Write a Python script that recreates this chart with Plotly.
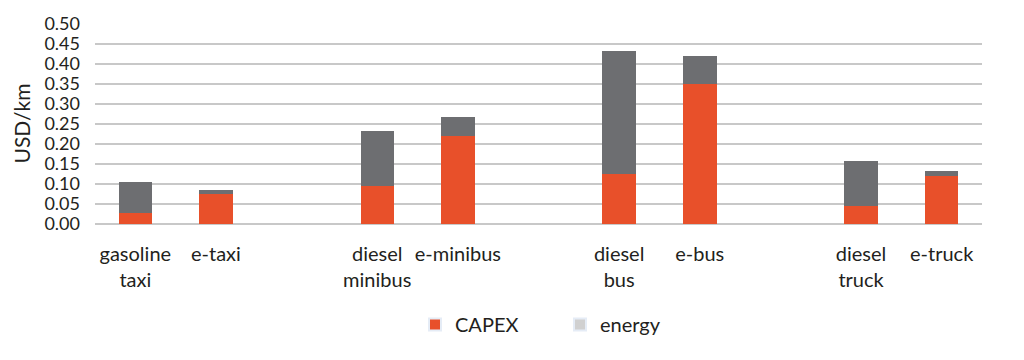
import plotly.graph_objects as go

categories = ["gasoline<br>taxi", "e-taxi", " ", "diesel<br>minibus", "e-minibus", "  ",
              "diesel<br>bus", "e-bus", "   ", "diesel<br>truck", "e-truck"]
capex = [0.027, 0.076, None, 0.095, 0.221, None, 0.124, 0.350, None, 0.045, 0.119]
energy = [0.078, 0.010, None, 0.137, 0.046, None, 0.308, 0.069, None, 0.113, 0.013]
y_ticks = [0.00, 0.05, 0.10, 0.15, 0.20, 0.25, 0.30, 0.35, 0.40, 0.45, 0.50]

ORANGE = "#E8502A"
DARK = "#6D6E71"
LIGHT = "#D0D0D0"
FONT = "Lato"
TXT = "#231F20"

# the page body has an 8px margin; plot area should span x 95..982, y 23..224 on screen
L, R, T, B = 87, 50, 15, 144
plot_w = 1024 - L - R

fig = go.Figure()
fig.add_trace(go.Bar(x=categories, y=capex, marker=dict(color=ORANGE, line=dict(width=0)),
                     name="CAPEX", showlegend=False))
fig.add_trace(go.Bar(x=categories, y=energy, marker=dict(color=DARK, line=dict(width=0)),
                     name="energy", showlegend=False))
# legend entries
fig.add_trace(go.Bar(x=[categories[0]], y=[None], marker=dict(color=ORANGE), name="CAPEX"))
fig.add_trace(go.Bar(x=[categories[0]], y=[None], marker=dict(color=LIGHT), name="energy"))

fig.update_layout(
    barmode="stack",
    bargap=0.585,
    width=1024, height=360,
    margin=dict(l=L, r=R, t=T, b=B),
    paper_bgcolor="white", plot_bgcolor="white",
    font=dict(family=FONT, color=TXT, size=19),
    showlegend=True,
    legend=dict(orientation="h", x=(415 - 8 - L) / plot_w, xanchor="left", y=-0.50, yanchor="middle",
                traceorder="normal",
                font=dict(size=20, family=FONT, color=TXT), entrywidth=100,
                itemsizing="constant"),
)
fig.update_xaxes(type="category", categoryorder="array", categoryarray=categories,
                 range=[-0.5, len(categories) - 0.5], showgrid=False, showline=False,
                 automargin=False,
                 ticks="", tickfont=dict(size=20, family=FONT, color=TXT), ticklabelstandoff=16)
fig.update_yaxes(range=[0, 0.502], tickvals=y_ticks, ticktext=[f"{v:.2f}" for v in y_ticks],
                 showgrid=True, gridcolor="#C8C8C8", gridwidth=2, zeroline=True,
                 automargin=False,
                 zerolinecolor="#C8C8C8", zerolinewidth=2, showline=False, ticks="",
                 ticklabelstandoff=14,
                 tickfont=dict(size=18, family=FONT, color=TXT),
                 title=dict(text="USD/km", font=dict(size=21, family=FONT, color=TXT), standoff=8))

fig.write_html("out.html")
